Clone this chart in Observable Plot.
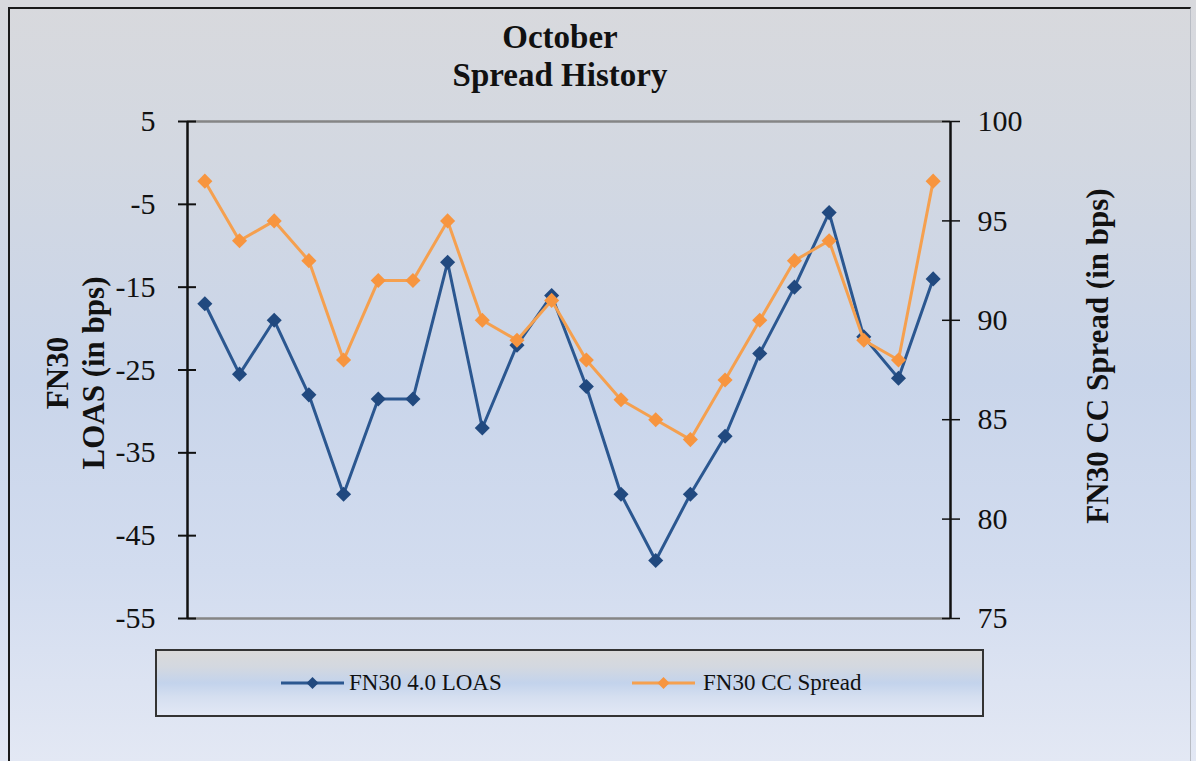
<!DOCTYPE html>
<html>
<head>
<meta charset="utf-8">
<script src="https://cdn.jsdelivr.net/npm/d3@7"></script>
<script src="https://cdn.jsdelivr.net/npm/@observablehq/plot@0.6"></script>
<style>
html,body{margin:0;padding:0;}
body{width:1196px;height:761px;overflow:hidden;background:#e3e8f3;}
#chart{position:relative;width:1196px;height:761px;box-sizing:border-box;overflow:hidden;
  background:linear-gradient(to bottom,#d8d9dd 0%,#d3d8e1 20%,#c9d5ea 50%,#d2dcef 75%,#e3e8f4 100%);
  font-family:"Liberation Serif","Times New Roman",serif;color:#111;}
#border{position:absolute;left:8px;top:7px;width:1180px;height:780px;border-left:2px solid #1a1a1a;border-top:2px solid #1a1a1a;border-right:1px solid #b8bcc4;pointer-events:none;}
#title{height:111px;box-sizing:border-box;padding-top:18px;width:1120px;text-align:center;font-weight:bold;font-size:33px;line-height:38px;}
#plot{height:530px;}
#plot svg{display:block;}
#legend{position:relative;margin-left:155px;margin-top:8px;width:829px;height:68px;box-sizing:border-box;border:2px solid #333;
  background:linear-gradient(to bottom,#dadada 0%,#d3d8e0 25%,#c3d3ec 50%,#d5dff0 72%,#e2e8f5 100%);}
.item{position:absolute;top:0;height:100%;display:flex;align-items:center;font-size:23px;}
.item svg{display:block;}
</style>
</head>
<body>
<div id="chart">
  <div id="border"></div>
  <div id="title">October<br>Spread History</div>
  <div id="plot"></div>
  <div id="legend"></div>
</div>
<script>
// ---- data ----
const seriesNames = ["FN30 4.0 LOAS", "FN30 CC Spread"];
const loas = [-17, -25.5, -19, -28, -40, -28.5, -28.5, -12, -32, -22, -16, -27, -40, -48, -40, -33, -23, -15, -6, -21, -26, -14];
const ccSpread = [97, 94, 95, 93, 88, 92, 92, 95, 90, 89, 91, 88, 86, 85, 84, 87, 90, 93, 94, 89, 88, 97];
const leftTicks = [5, -5, -15, -25, -35, -45, -55];
const rightTicks = [100, 95, 90, 85, 80, 75];
const leftDomain = [-55, 5];
const rightDomain = [75, 100];
const leftLabel = "FN30\nLOAS (in bps)";
const rightLabel = "FN30 CC Spread (in bps)";

const colors = {loasLine: "#2b5790", loasDot: "#21497f", ccLine: "#f5a04f", ccDot: "#f7953f"};

// map right-axis values onto the left scale
const k = (leftDomain[1] - leftDomain[0]) / (rightDomain[1] - rightDomain[0]);
const toLeft = v => leftDomain[0] + (v - rightDomain[0]) * k;
const fromLeft = v => rightDomain[0] + (v - leftDomain[0]) / k;

const n = loas.length;
const rows = loas.map((v, i) => ({i, loas: v, cc: toLeft(ccSpread[i])}));
const xDomain = [-0.5, n - 0.5];
const diamond = d3.symbolDiamond2 || "diamond";

const chart = Plot.plot({
  width: 1196,
  height: 530,
  marginLeft: 187,
  marginRight: 246,
  marginTop: 10,
  marginBottom: 23,
  style: {background: "transparent", fontFamily: "'Liberation Serif','Times New Roman',serif", color: "#111", overflow: "visible"},
  x: {domain: xDomain, axis: null},
  y: {domain: leftDomain, axis: null},
  marks: [
    Plot.ruleY(leftDomain, {stroke: "#858585", strokeWidth: 2.5}),
    Plot.ruleX(xDomain, {stroke: "#111", strokeWidth: 2.5}),
    Plot.axisY(leftTicks, {anchor: "left", tickSize: 18, dx: 9, tickPadding: 23, fontSize: 30, strokeWidth: 2, tickFormat: d => String(d), label: null}),
    Plot.axisY(rightTicks.map(toLeft), {anchor: "right", tickSize: 18, dx: -9, tickPadding: 18, fontSize: 30, strokeWidth: 1.5, tickFormat: d => String(Math.round(fromLeft(d))), label: null}),
    Plot.text([leftLabel], {frameAnchor: "left", rotate: -90, dx: -113, dy: 3, fontSize: 31, fontWeight: "bold", lineHeight: 1.16, textAnchor: "middle"}),
    Plot.text([rightLabel], {frameAnchor: "right", rotate: -90, dx: 148, dy: -14, fontSize: 31, fontWeight: "bold", textAnchor: "middle"}),
    Plot.line(rows, {x: "i", y: "loas", stroke: colors.loasLine, strokeWidth: 3}),
    Plot.dot(rows, {x: "i", y: "loas", symbol: diamond, r: 6.8, fill: colors.loasDot, stroke: "none"}),
    Plot.line(rows, {x: "i", y: "cc", stroke: colors.ccLine, strokeWidth: 3}),
    Plot.dot(rows, {x: "i", y: "cc", symbol: diamond, r: 6.8, fill: colors.ccDot, stroke: "none"})
  ]
});
document.getElementById("plot").append(chart);

// ---- legend ----
const legend = document.getElementById("legend");
const legendItems = [
  {name: seriesNames[0], line: colors.loasLine, dot: colors.loasDot, swatchLeft: 124, textLeft: 192},
  {name: seriesNames[1], line: colors.ccLine, dot: colors.ccDot, swatchLeft: 475, textLeft: 546}
];
for (const it of legendItems) {
  const sw = document.createElement("div");
  sw.className = "item";
  sw.style.left = it.swatchLeft + "px";
  sw.innerHTML = `<svg width="63" height="16"><line x1="0" y1="8" x2="63" y2="8" stroke="${it.line}" stroke-width="3"/><path d="M31.5,2 L37.5,8 L31.5,14 L25.5,8 Z" fill="${it.dot}"/></svg>`;
  legend.append(sw);
  const tx = document.createElement("div");
  tx.className = "item";
  tx.style.left = it.textLeft + "px";
  tx.textContent = it.name;
  legend.append(tx);
}
</script>
</body>
</html>
